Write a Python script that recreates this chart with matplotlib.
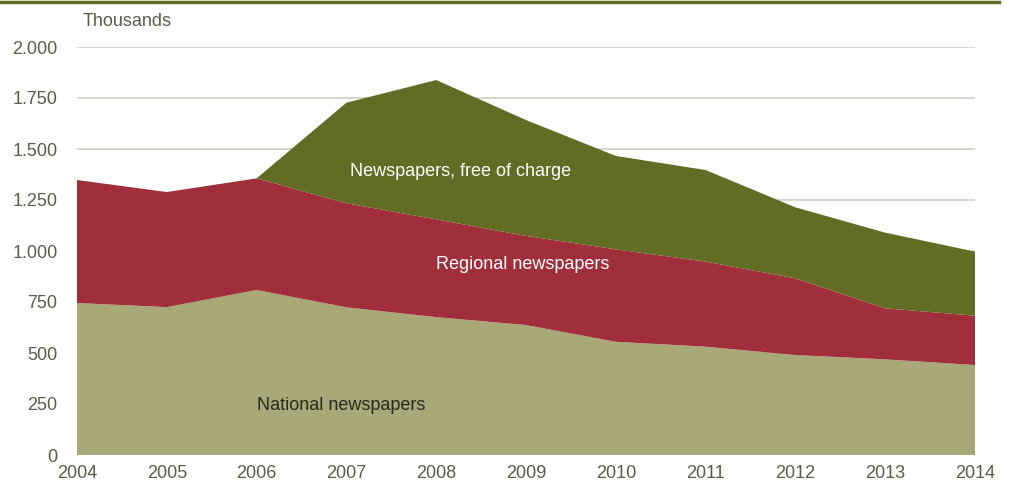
'''stacked area chart: newspaper circulation 2004-2014
'''
import matplotlib
matplotlib.use('Agg')
import matplotlib.pyplot as plt
from matplotlib.lines import Line2D

years = [2004, 2005, 2006, 2007, 2008, 2009, 2010, 2011, 2012, 2013, 2014]
national = [745, 725, 809, 724, 676, 637, 555, 531, 490, 469, 441]
regional = [603, 564, 547, 510, 479, 437, 453, 417, 376, 250, 242]
free = [0, 0, 0, 493, 683, 568, 458, 449, 348, 371, 314]
series_labels = ['National newspapers', 'Regional newspapers', 'Newspapers, free of charge']
yticks = [0, 250, 500, 750, 1000, 1250, 1500, 1750, 2000]

plt.rcParams['font.family'] = ['Liberation Sans', 'DejaVu Sans']
TICK_COLOR = '#5b5b4b'

fig = plt.figure(figsize=(10.1, 4.91), dpi=100)
ax = fig.add_axes([77 / 1010, 36 / 491, 898 / 1010, 408 / 491])

ax.stackplot(years, national, regional, free,
             colors=['#a8a878', '#a02e3b', '#626c24'], linewidth=0)

ax.set_xlim(2004, 2014)
ax.set_ylim(0, 2000)
ax.set_yticks(yticks)
ax.set_yticklabels(['{:,}'.format(v).replace(',', '.') for v in yticks])
ax.set_xticks(years)
ax.set_xticklabels([str(y) for y in years])
ax.grid(axis='y', color='#d0d0c6', linewidth=1.2)
ax.set_axisbelow(True)
for s in ax.spines.values():
    s.set_visible(False)
ax.tick_params(length=0, labelsize=13, colors=TICK_COLOR)
ax.tick_params(axis='y', pad=14)
ax.tick_params(axis='x', pad=7)

ax.text(2006.94, 245, series_labels[0], fontsize=13, color='#2a2a22', ha='center', va='center')
ax.text(2008.96, 936, series_labels[1], fontsize=13, color='white', ha='center', va='center')
ax.text(2008.27, 1392, series_labels[2], fontsize=13, color='white', ha='center', va='center')

fig.text(83 / 1010, 1 - 22 / 491, 'Thousands', fontsize=13, color=TICK_COLOR, ha='left', va='center')
fig.add_artist(Line2D([0, 999 / 1010], [1 - 1.5 / 491, 1 - 1.5 / 491],
                      transform=fig.transFigure, color='#626c24', linewidth=2.5))

fig.savefig('out.png', dpi=100)
